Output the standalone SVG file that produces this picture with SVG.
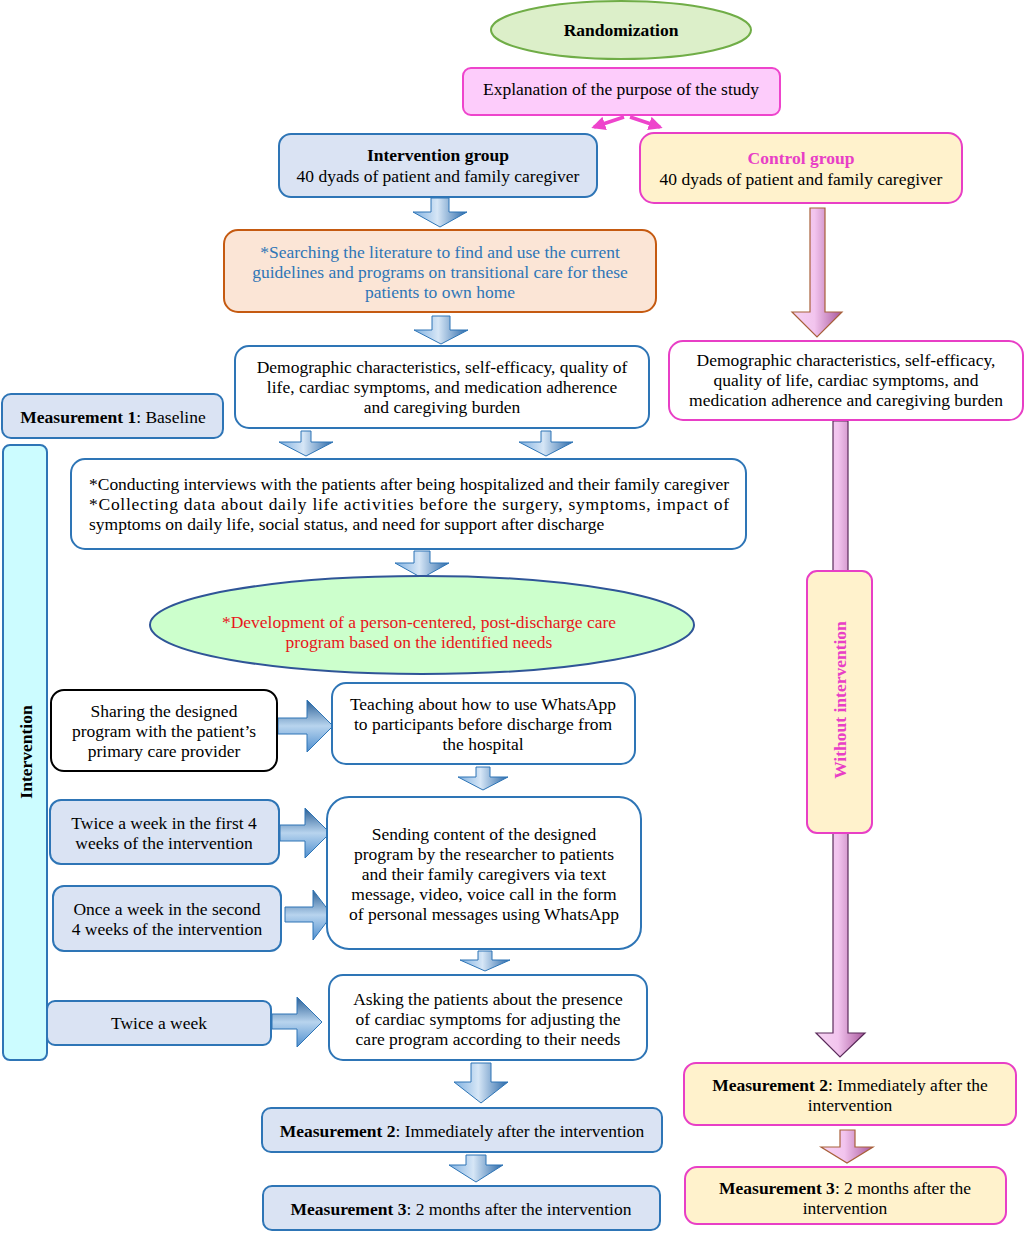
<svg xmlns="http://www.w3.org/2000/svg" width="1026" height="1233" viewBox="0 0 1026 1233">
<defs>
<style>
.t{font-family:"Liberation Serif","Times New Roman",serif;font-size:17.5px;fill:#000;text-anchor:middle}
.b{font-weight:bold}
.blue{fill:#dae3f3;stroke:#2e75b6;stroke-width:2}
.white{fill:#fff;stroke:#2e75b6;stroke-width:2}
.pinkbox{fill:#fff2cc;stroke:#e83fc6;stroke-width:2}
.ad{fill:url(#gBlueV);stroke:#2e75b6;stroke-width:1}
.ar{fill:url(#gBlueH);stroke:#2e75b6;stroke-width:1}
.ap{fill:url(#gPink);stroke:#a8603a;stroke-width:1.2}
.apl{fill:url(#gPink);stroke:#5a2a5a;stroke-width:1.2}
</style>
<linearGradient id="gBlueV" x1="0" y1="0" x2="1" y2="0">
<stop offset="0" stop-color="#7fb0e0"/><stop offset="0.45" stop-color="#d6e6f6"/><stop offset="1" stop-color="#2a68a8"/>
</linearGradient>
<linearGradient id="gBlueH" x1="0" y1="0" x2="0" y2="1">
<stop offset="0" stop-color="#2a5f96"/><stop offset="0.5" stop-color="#b8d4ee"/><stop offset="1" stop-color="#4f8fcf"/>
</linearGradient>
<linearGradient id="gPink" x1="0" y1="0" x2="1" y2="0">
<stop offset="0" stop-color="#f6d3f2"/><stop offset="0.45" stop-color="#f2c4ee"/><stop offset="1" stop-color="#a8589c"/>
</linearGradient>
<marker id="mp" viewBox="0 0 10 10" refX="8" refY="5" markerWidth="4" markerHeight="4" orient="auto">
<path d="M0,0 L10,5 L0,10 Z" fill="#ee44cc"/>
</marker>
</defs>
<rect width="1026" height="1233" fill="#fff"/>

<g id="connectors">
<line x1="624" y1="117" x2="594" y2="127" stroke="#ee44cc" stroke-width="3.5" marker-end="url(#mp)"/>
<line x1="630" y1="117" x2="660" y2="127" stroke="#ee44cc" stroke-width="3.5" marker-end="url(#mp)"/>
<path class="ad" d="M431,198 H449 V212 H467 L440,227 L413,212 H431 Z"/>
<path class="ad" d="M432,316 H450 V330 H468 L441,344 L414,330 H432 Z"/>
<path class="ad" d="M301,431 H311 V442 H333 L306,456 L279,442 H301 Z"/>
<path class="ad" d="M541,431 H551 V442 H573 L546,456 L519,442 H541 Z"/>
<path class="ad" d="M414,551 H430 V563 H449 L422,578 L395,563 H414 Z"/>
<path class="ad" d="M476,767 H490 V777 H508 L483,790 L458,777 H476 Z"/>
<path class="ad" d="M478,951 H492 V960 H510 L485,971 L460,960 H478 Z"/>
<path class="ad" d="M471,1063 H491 V1082 H508 L481,1103 L454,1082 H471 Z"/>
<path class="ad" d="M466,1155 H486 V1165 H503 L476,1182 L449,1165 H466 Z"/>
<path class="ar" d="M278,718 H307 V700 L333,726 L307,752 V734 H278 Z"/>
<path class="ar" d="M280,825 H305 V808 L330,833 L305,858 V841 H280 Z"/>
<path class="ar" d="M285,907 H313 V890 L332,915 L313,940 V922 H285 Z"/>
<path class="ar" d="M272,1014 H297 V997 L322,1022 L297,1047 V1029 H272 Z"/>
<path class="ap" d="M810,208 H825 V312 H842 L817,337 L792,312 H810 Z"/>
<path class="apl" d="M833,421 H848 V1033 H865 L840,1057 L816,1033 H833 Z"/>
<path class="ap" d="M840,1130 H855 V1147 H873 L847,1163 L821,1147 H840 Z"/>
</g>

<g id="randomization">
<ellipse cx="621" cy="30" rx="130" ry="29" fill="#dcefc9" stroke="#70ad47" stroke-width="2"/>
<text class="t b" x="621" y="36">Randomization</text>
</g>
<g id="explanation">
<rect x="463" y="68" width="317" height="47" rx="8" fill="#fdccfb" stroke="#ee44cc" stroke-width="2"/>
<text class="t" x="621" y="95">Explanation of the purpose of the study</text>
</g>
<g id="intervention-group">
<rect class="blue" x="279" y="134" width="318" height="63" rx="12"/>
<text class="t b" x="438" y="161">Intervention group</text>
<text class="t" x="438" y="182">40 dyads of patient and family caregiver</text>
</g>
<g id="control-group">
<rect class="pinkbox" x="640" y="133" width="322" height="70" rx="14"/>
<text class="t b" x="801" y="164" style="fill:#e83fc6">Control group</text>
<text class="t" x="801" y="185">40 dyads of patient and family caregiver</text>
</g>
<g id="literature">
<rect x="224" y="230" width="432" height="82" rx="14" fill="#fbe5d6" stroke="#c55a11" stroke-width="2"/>
<text class="t" x="440" y="258" style="fill:#2e75b6">*Searching the literature to find and use the current</text>
<text class="t" x="440" y="278" style="fill:#2e75b6">guidelines and programs on transitional care for these</text>
<text class="t" x="440" y="298" style="fill:#2e75b6">patients to own home</text>
</g>
<g id="demographic-intervention">
<rect class="white" x="235" y="346" width="414" height="82" rx="14"/>
<text class="t" x="442" y="373">Demographic characteristics, self-efficacy, quality of</text>
<text class="t" x="442" y="393">life, cardiac symptoms, and medication adherence</text>
<text class="t" x="442" y="413">and caregiving burden</text>
</g>
<g id="demographic-control">
<rect x="669" y="341" width="354" height="79" rx="14" fill="#fff" stroke="#e83fc6" stroke-width="2"/>
<text class="t" x="846" y="366">Demographic characteristics, self-efficacy,</text>
<text class="t" x="846" y="386">quality of life, cardiac symptoms, and</text>
<text class="t" x="846" y="406">medication adherence and caregiving burden</text>
</g>
<g id="measurement1">
<rect class="blue" x="2" y="394" width="221" height="44" rx="9"/>
<text class="t" x="113" y="423"><tspan class="b">Measurement 1</tspan>: Baseline</text>
</g>
<g id="intervention-bar">
<rect x="3" y="445" width="44" height="615" rx="7" fill="#ccfcff" stroke="#2e75b6" stroke-width="2"/>
<text class="t b" transform="translate(32,752) rotate(-90)" x="0" y="0">Intervention</text>
</g>
<g id="interviews">
<rect class="white" x="71" y="459" width="675" height="90" rx="14"/>
<text class="t" x="89" y="490" style="text-anchor:start" textLength="640" lengthAdjust="spacing">*Conducting interviews with the patients after being hospitalized and their family caregiver</text>
<text class="t" x="89" y="510" style="text-anchor:start" textLength="640" lengthAdjust="spacing">*Collecting data about daily life activities before the surgery, symptoms, impact of</text>
<text class="t" x="89" y="530" style="text-anchor:start">symptoms on daily life, social status, and need for support after discharge</text>
</g>
<g id="development">
<ellipse cx="422" cy="625" rx="272" ry="49" fill="#ccffcc" stroke="#2f5597" stroke-width="2"/>
<text class="t" x="419" y="628" style="fill:#e8161b">*Development of a person-centered, post-discharge care</text>
<text class="t" x="419" y="648" style="fill:#e8161b">program based on the identified needs</text>
</g>
<g id="sharing">
<rect x="51" y="690" width="226" height="81" rx="13" fill="#fff" stroke="#000" stroke-width="2"/>
<text class="t" x="164" y="717">Sharing the designed</text>
<text class="t" x="164" y="737">program with the patient’s</text>
<text class="t" x="164" y="757">primary care provider</text>
</g>
<g id="teaching">
<rect class="white" x="332" y="683" width="303" height="81" rx="14"/>
<text class="t" x="483" y="710">Teaching about how to use WhatsApp</text>
<text class="t" x="483" y="730">to participants before discharge from</text>
<text class="t" x="483" y="750">the hospital</text>
</g>
<g id="twice-first">
<rect class="blue" x="50" y="800" width="229" height="64" rx="11"/>
<text class="t" x="164" y="829">Twice a week in the first 4</text>
<text class="t" x="164" y="849">weeks of the intervention</text>
</g>
<g id="sending">
<rect class="white" x="327" y="797" width="314" height="152" rx="22"/>
<text class="t" x="484" y="840">Sending content of the designed</text>
<text class="t" x="484" y="860">program by the researcher to patients</text>
<text class="t" x="484" y="880">and their family caregivers via text</text>
<text class="t" x="484" y="900">message, video, voice call in the form</text>
<text class="t" x="484" y="920">of personal messages using WhatsApp</text>
</g>
<g id="once-second">
<rect class="blue" x="53" y="886" width="228" height="65" rx="11"/>
<text class="t" x="167" y="915">Once a week in the second</text>
<text class="t" x="167" y="935">4 weeks of the intervention</text>
</g>
<g id="twice">
<rect class="blue" x="47" y="1001" width="224" height="44" rx="8"/>
<text class="t" x="159" y="1029">Twice a week</text>
</g>
<g id="asking">
<rect class="white" x="329" y="975" width="318" height="85" rx="14"/>
<text class="t" x="488" y="1005">Asking the patients about the presence</text>
<text class="t" x="488" y="1025">of cardiac symptoms for adjusting the</text>
<text class="t" x="488" y="1045">care program according to their needs</text>
</g>
<g id="measurement2-intervention">
<rect class="blue" x="262" y="1108" width="400" height="44" rx="9"/>
<text class="t" x="462" y="1137"><tspan class="b">Measurement 2</tspan>: Immediately after the intervention</text>
</g>
<g id="measurement3-intervention">
<rect class="blue" x="263" y="1186" width="397" height="44" rx="9"/>
<text class="t" x="461" y="1215"><tspan class="b">Measurement 3</tspan>: 2 months after the intervention</text>
</g>
<g id="without-intervention">
<rect class="pinkbox" x="807" y="571" width="65" height="262" rx="10"/>
<text class="t b" transform="translate(846,700) rotate(-90)" x="0" y="0" style="fill:#e83fc6">Without intervention</text>
</g>
<g id="measurement2-control">
<rect class="pinkbox" x="684" y="1063" width="332" height="62" rx="12"/>
<text class="t" x="850" y="1091"><tspan class="b">Measurement 2</tspan>: Immediately after the</text>
<text class="t" x="850" y="1111">intervention</text>
</g>
<g id="measurement3-control">
<rect class="pinkbox" x="685" y="1167" width="321" height="57" rx="12"/>
<text class="t" x="845" y="1194"><tspan class="b">Measurement 3</tspan>: 2 months after the</text>
<text class="t" x="845" y="1214">intervention</text>
</g>
</svg>
